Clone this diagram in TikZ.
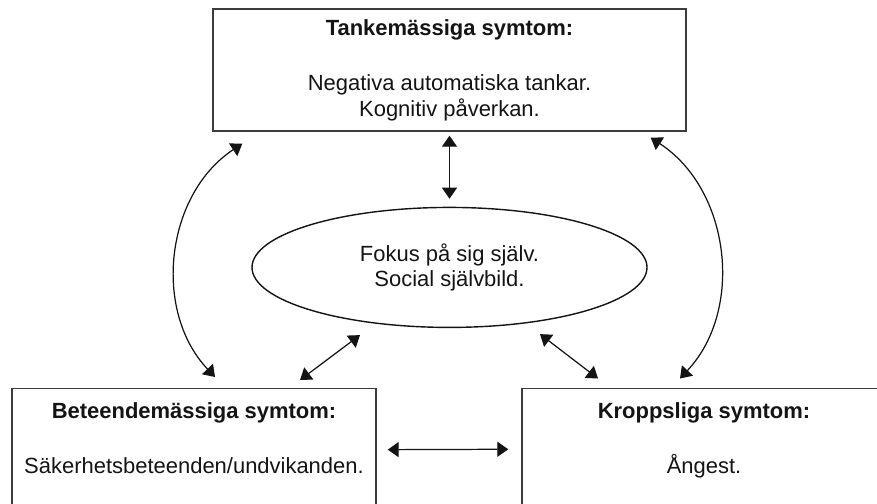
\documentclass[tikz,border=0pt]{standalone}
\usepackage{fontspec}
\setmainfont{Liberation Sans}
\usepackage{tikz}
\usetikzlibrary{positioning, shapes.geometric, arrows.meta}
\definecolor{sxBlack}{RGB}{20, 20, 20}
\definecolor{sxGray}{RGB}{60, 60, 60}
\tikzset{
    base/.style={
        font=\fontsize{12.5}{14.5}\selectfont,
        align=center,
        text=sxBlack
    },
    symptom/.style={
        base,
        rectangle,
        draw=sxGray,
        line width=0.8pt,
        minimum width=7.28cm,
        minimum height=2.44cm,
        inner sep=0pt
    },
    focus/.style={
        base,
        ellipse,
        draw=sxBlack,
        line width=0.8pt,
        minimum width=7.9cm,
        minimum height=2.4cm
    },
    flow/.style={
        <->,
        >={Triangle[length=2.2mm, width=3mm]},
        line width=0.7pt,
        color=sxBlack
    }
}

\begin{document}
\begin{tikzpicture}[node distance=1.5cm]
  \useasboundingbox (0,0) rectangle (17.54,-10.06);

  % Components
  \node[symptom, minimum width=9.46cm] (thought) at (8.99,-1.40) {\textbf{Tankemässiga symtom:}\\[17pt]Negativa automatiska tankar.\\Kognitiv påverkan.};
  \node[focus, below=of thought] (self) {Fokus på sig själv.\\Social självbild.};
  \node[symptom, anchor=north, text depth=13pt] (behaviour) at (3.88,-7.76) {\textbf{Beteendemässiga symtom:}\\[17pt]Säkerhetsbeteenden/undvikanden.};
  \node[symptom, anchor=north, text depth=13pt] (body) at (14.08,-7.75) {\textbf{Kroppsliga symtom:}\\[17pt]Ångest.};

  % Connections
  \draw[flow, shorten <=0.08cm, shorten >=0.16cm] (thought.south) -- (self.north);
  \draw[flow] ([xshift=0.6cm, yshift=-0.24cm]thought.south west) to[bend right=50] ([xshift=0.42cm, yshift=0.22cm]behaviour.north);
  \draw[flow] ([xshift=-0.72cm, yshift=-0.12cm]thought.south east) to[bend left=50] ([xshift=-0.48cm, yshift=0.18cm]body.north);
  \draw[flow] ([xshift=-1.79cm, yshift=-0.14cm]self.south) -- ([xshift=2.12cm, yshift=0.16cm]behaviour.north);
  \draw[flow] ([xshift=1.81cm, yshift=-0.12cm]self.south) -- ([xshift=-2.12cm, yshift=0.18cm]body.north);
  \draw[flow, shorten <=0.22cm, shorten >=0.26cm] (behaviour.east) -- (body.west);
\end{tikzpicture}
\end{document}
